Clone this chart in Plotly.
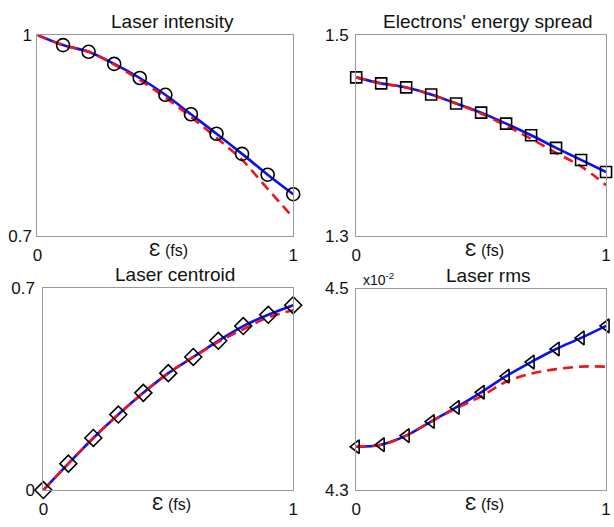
import plotly.graph_objects as go

# Pulse-shaping parameter (fs)
eps = [0.0, 0.1, 0.2, 0.3, 0.4, 0.5, 0.6, 0.7, 0.8, 0.9, 1.0]

# Laser intensity (normalised)
intensity_sim = [1.0, 0.985, 0.975, 0.957, 0.936, 0.911, 0.882, 0.853, 0.823, 0.792, 0.763]
intensity_model = [1.0, 0.985, 0.975, 0.956, 0.933, 0.907, 0.878, 0.847, 0.814, 0.771, 0.728]
intensity_marks = intensity_sim[1:]
intensity_marks_x = eps[1:]

# Electrons' energy spread
spread_sim = [1.458, 1.452, 1.448, 1.441, 1.432, 1.423, 1.412, 1.4005, 1.388, 1.376, 1.364]
spread_model = [1.458, 1.452, 1.448, 1.441, 1.432, 1.422, 1.410, 1.397, 1.383, 1.3696, 1.351]

# Laser centroid
centroid_sim = [0.0, 0.091, 0.180, 0.261, 0.336, 0.404, 0.460, 0.516, 0.567, 0.606, 0.639]
centroid_model = [0.0, 0.091, 0.180, 0.261, 0.336, 0.404, 0.460, 0.512, 0.556, 0.597, 0.622]

# Laser rms (x 10^-2)
rms_sim = [4.343, 4.345, 4.354, 4.368, 4.382, 4.397, 4.413, 4.427, 4.440, 4.451, 4.463]
rms_model = [4.343, 4.345, 4.354, 4.368, 4.381, 4.393, 4.4075, 4.4155, 4.420, 4.4225, 4.4225]

x_ticks = [0, 1]
x_ticktext = ["0", "1"]

panels = [
    dict(title="Laser intensity", sim=intensity_sim, model=intensity_model,
         mx=intensity_marks_x, my=intensity_marks, symbol="circle-open", msize=13,
         yr=[0.7, 1.0], yt=["0.7", "1"], ygap=1,
         xd=[33, 293], yd=[27, 236]),
    dict(title="Electrons' energy spread", sim=spread_sim, model=spread_model,
         mx=eps, my=spread_sim, symbol="square-open", msize=11,
         yr=[1.3, 1.5], yt=["1.3", "1.5"], ygap=3,
         xd=[357, 611], yd=[27, 236]),
    dict(title="Laser centroid", sim=centroid_sim, model=centroid_model,
         mx=eps, my=centroid_sim, symbol="diamond-open", msize=13,
         yr=[0.0, 0.7], yt=["0", "0.7"], ygap=4,
         xd=[39, 293], yd=[289, 499]),
    dict(title="Laser rms", sim=rms_sim, model=rms_model,
         mx=eps, my=rms_sim, symbol="triangle-left-open", msize=12,
         yr=[4.3, 4.5], yt=["4.3", "4.5"], ygap=3,
         xd=[357, 611], yd=[290, 499]),
]

W, H = 614, 527
FONT = "Liberation Sans, Arial, Helvetica, sans-serif"
BLUE = "#0a10f5"
RED = "#f0141e"
AXIS = "#9a9a9a"
INK = "#111111"

fig = go.Figure()
annotations = []

for i, p in enumerate(panels):
    n = "" if i == 0 else str(i + 1)
    xa, ya = "x" + n, "y" + n
    fig.add_trace(go.Scatter(x=eps, y=p["sim"], mode="lines", xaxis=xa, yaxis=ya,
                             line=dict(color=BLUE, width=2.6, shape="spline"),
                             cliponaxis=False, showlegend=False))
    fig.add_trace(go.Scatter(x=eps, y=p["model"], mode="lines", xaxis=xa, yaxis=ya,
                             line=dict(color=RED, width=2.6, dash="10px,6px", shape="spline"),
                             cliponaxis=False, showlegend=False))
    fig.add_trace(go.Scatter(x=p["mx"], y=p["my"], mode="markers", xaxis=xa, yaxis=ya,
                             marker=dict(symbol=p["symbol"], size=p["msize"], color="black",
                                         line=dict(color="black", width=1.6)),
                             cliponaxis=False, showlegend=False))

    x0, x1 = p["xd"]
    y0, y1 = p["yd"]
    axis_common = dict(showgrid=False, zeroline=False, showline=True, linecolor=AXIS,
                       linewidth=1.2, mirror=True, ticks="outside",
                       tickcolor="rgba(0,0,0,0)",
                       tickfont=dict(family=FONT, size=17, color=INK))
    fig.layout["xaxis" + n] = dict(domain=[x0 / W, x1 / W], range=[0, 1], anchor=ya,
                                   tickvals=x_ticks, ticktext=x_ticktext, ticklen=3,
                                   **axis_common)
    fig.layout["yaxis" + n] = dict(domain=[1 - y1 / H, 1 - y0 / H], range=p["yr"], anchor=xa,
                                   tickvals=p["yr"], ticktext=p["yt"], ticklen=p["ygap"],
                                   **axis_common)

    cx = (x0 + x1) / 2
    annotations.append(dict(text=p["title"], x=(cx + 7) / W, y=1 - (y0 - 14) / H,
                            xref="paper", yref="paper", showarrow=False,
                            xanchor="center", yanchor="middle",
                            font=dict(family=FONT, size=19, color=INK)))
    annotations.append(dict(text="<span style='font-size:19px'>Ɛ</span> (fs)",
                            x=(cx + 3) / W, y=1 - (y1 + 14) / H,
                            xref="paper", yref="paper", showarrow=False,
                            xanchor="center", yanchor="middle",
                            font=dict(family=FONT, size=16, color=INK)))

# exponent label of the rms axis
annotations.append(dict(text="x10<sup>-2</sup>", x=362 / W, y=1 - 280 / H,
                        xref="paper", yref="paper", showarrow=False,
                        xanchor="left", yanchor="middle",
                        font=dict(family=FONT, size=14, color=INK)))

fig.update_layout(width=W, height=H, margin=dict(l=0, r=0, t=0, b=0),
                  paper_bgcolor="white", plot_bgcolor="white",
                  annotations=annotations)

fig.write_html("out.html")
